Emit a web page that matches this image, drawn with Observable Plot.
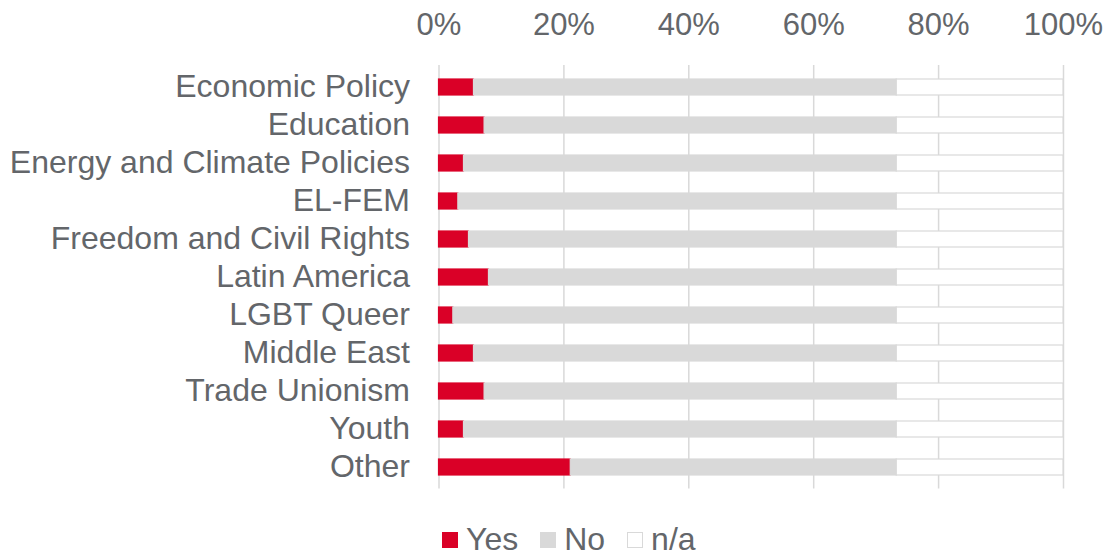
<!DOCTYPE html>
<html>
<head>
<meta charset="utf-8">
<script src="https://cdn.jsdelivr.net/npm/d3@7"></script>
<script src="https://cdn.jsdelivr.net/npm/@observablehq/plot@0.6"></script>
<style>
  html, body { margin: 0; padding: 0; background: #fff; }
  body { width: 1108px; height: 557px; overflow: hidden; font-family: "Liberation Sans", Arial, sans-serif; color: #63666a; }
  #chart svg { display: block; }
  .legend { display: flex; align-items: center; padding-left: 442px; padding-top: 21px; height: 30px; font-size: 32px; line-height: 30px; }
  .legend .item { display: flex; align-items: center; margin-right: 22px; height: 30px; }
  .legend .sw { width: 16px; height: 16px; box-sizing: border-box; margin-right: 8px; margin-top: 2px; }
</style>
</head>
<body>
<div id="chart"></div>
<div class="legend" id="legend"></div>
<script>
const categories = ["Economic Policy", "Education", "Energy and Climate Policies", "EL-FEM", "Freedom and Civil Rights", "Latin America", "LGBT Queer", "Middle East", "Trade Unionism", "Youth", "Other"];
const yesValues = [5.6, 7.3, 4.0, 3.1, 4.8, 8.0, 2.3, 5.6, 7.3, 4.0, 21.1];
const noValues  = [67.7, 66.0, 69.3, 70.2, 68.5, 65.3, 71.0, 67.7, 66.0, 69.3, 52.2];
const naValues  = [26.7, 26.7, 26.7, 26.7, 26.7, 26.7, 26.7, 26.7, 26.7, 26.7, 26.7];
const responses = ["Yes", "No", "n/a"];
const colors = ["#da0027", "#d9d9d9", "#ffffff"];
const strokes = ["#da0027", "#d9d9d9", "#d9d9d9"];
const xTicks = [0, 20, 40, 60, 80, 100];

const data = [];
categories.forEach((c, i) => {
  data.push({category: c, response: "Yes", value: yesValues[i]});
  data.push({category: c, response: "No", value: noValues[i]});
  data.push({category: c, response: "n/a", value: naValues[i]});
});

const strokeOf = new Map(responses.map((r, i) => [r, strokes[i]]));

const chart = Plot.plot({
  width: 1108,
  height: 503,
  marginLeft: 438.5,
  marginRight: 45,
  marginTop: 65,
  marginBottom: 14.5,
  style: {fontFamily: "'Liberation Sans', Arial, sans-serif", fontSize: "30px", color: "#63666a", background: "#fff"},
  x: {domain: [0, 100], ticks: xTicks, tickFormat: d => d + "%", axis: null},
  y: {domain: categories, paddingInner: 0.584, paddingOuter: 0.292, axis: null},
  color: {domain: responses, range: colors},
  marks: [
    Plot.gridX(xTicks, {stroke: "#d9d9d9", strokeOpacity: 1, strokeWidth: 1.5}),
    Plot.barX(data, Plot.stackX({
      x: "value", y: "category", fill: "response",
      stroke: d => strokeOf.get(d.response), strokeWidth: 1.2,
      order: responses
    })),
    Plot.axisX(xTicks, {anchor: "top", tickSize: 0, tickPadding: 31, tickFormat: d => d + "%", fontSize: 31, fill: "#63666a", label: null}),
    Plot.axisY({anchor: "left", tickSize: 0, tickPadding: 29, fontSize: 32, dy: -1, fill: "#63666a", label: null})
  ]
});
document.getElementById("chart").appendChild(chart);

const legend = document.getElementById("legend");
responses.forEach((r, i) => {
  const item = document.createElement("div");
  item.className = "item";
  const sw = document.createElement("span");
  sw.className = "sw";
  sw.style.background = colors[i];
  sw.style.border = "1.5px solid " + strokes[i];
  const t = document.createElement("span");
  t.textContent = r;
  item.appendChild(sw);
  item.appendChild(t);
  legend.appendChild(item);
});
</script>
</body>
</html>
